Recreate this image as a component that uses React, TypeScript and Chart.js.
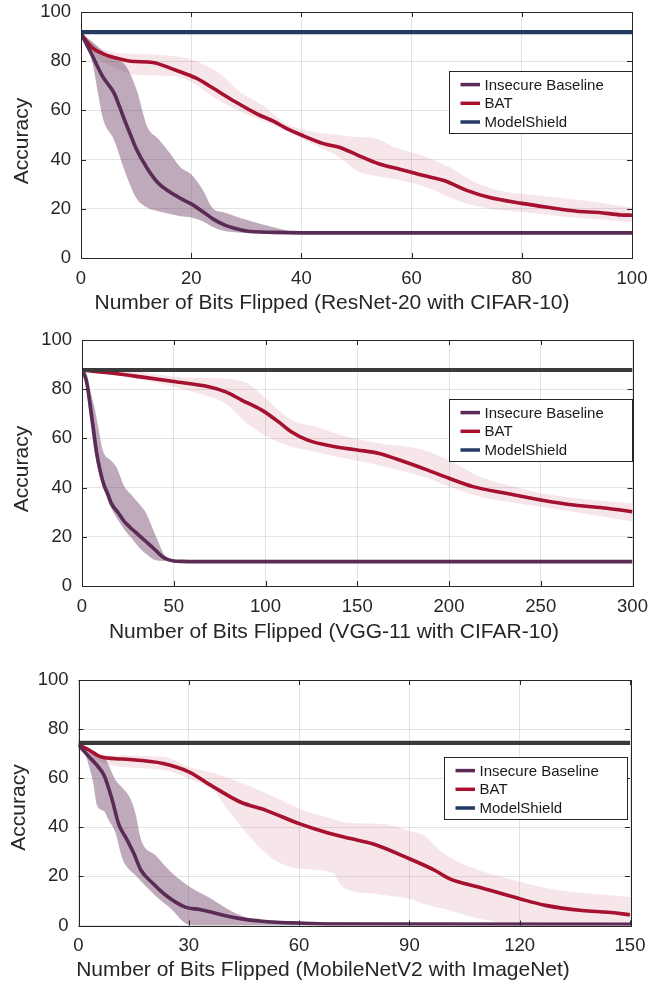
import React, { useEffect, useRef } from "react";
import { Chart, registerables } from "chart.js";

Chart.register(...registerables);

const FONT = "'Liberation Sans', Arial, Helvetica, sans-serif";
const PAGE_W = 668;

const PURPLE = "#5a2c55";
const PURPLE_FILL = "rgba(100,52,94,0.42)";
const CRIMSON = "#a5112f";
const CRIMSON_FILL = "rgba(170,30,55,0.11)";
const NAVY = "#243a63";
const DARK = "#3a3a3a";
const INK = "#262626";

const legendLabels = ["Insecure Baseline", "BAT", "ModelShield"];
const yTitle = "Accuracy";
const yTicks = { min: 0, max: 100, step: 20 };

// ---------- Panel 1: ResNet-20 with CIFAR-10 ----------
const r20Title = "Number of Bits Flipped (ResNet-20 with CIFAR-10)";
const r20XTicks = { max: 100, step: 20 };
const r20ShieldX = [0, 100];
const r20ShieldY = [91.8, 91.8];
const r20BaseX = [0, 2, 4, 6, 7, 8, 9, 10, 12, 14, 16, 18, 20, 22, 24, 26, 28, 30, 35, 40, 100];
const r20BaseY = [91.2, 82.5, 73.5, 67, 61.5, 55.5, 50, 44.5, 36.5, 30.5, 27, 24.3, 22, 19, 15.8, 13.5, 12, 11, 10.4, 10.2, 10.2];
const r20BaseBandX = [0, 2, 3, 4, 6, 8, 10, 12, 14, 16, 18, 20, 22, 24, 26, 28, 30, 34, 40, 100];
const r20BaseHi = [91.2, 88, 86, 84, 81, 78.5, 69, 53.5, 48.5, 43, 37, 34, 28, 20, 18.5, 17, 15.5, 13, 10.5, 10.5];
const r20BaseLo = [91.2, 80, 68, 56.5, 48, 35, 24.5, 20.5, 19, 18, 17, 16.5, 15, 12.5, 11, 10.5, 10.2, 10, 10, 10];
const r20BatX = [0, 2, 4, 6, 9, 13, 17, 21, 24, 28, 32, 35, 37, 40, 44, 47, 50, 54, 58, 62, 66, 70, 74, 80, 85, 90, 94, 98, 100];
const r20BatY = [91.2, 85.5, 83, 81.5, 80, 79.5, 76.5, 73, 69, 63.5, 58.5, 55.5, 53, 50, 46.5, 44.9, 42, 38.3, 36, 33.6, 31.4, 27.5, 24.7, 22.2, 20.5, 19, 18.5, 17.5, 17.4];
const r20BatBandX = [0, 2, 5, 10, 17, 20, 25, 29, 33, 37, 41, 47, 50, 53, 57, 63, 67, 71, 76, 81, 89, 94, 100];
const r20BatHi = [91.2, 87.5, 84, 83, 82, 80.7, 75.3, 67.2, 62, 55, 51.8, 50, 49.2, 48.9, 45, 40.8, 36.8, 31.4, 27.3, 25.9, 23.9, 22.6, 20.5];
const r20BatLo = [91.2, 83, 78.6, 74.5, 73.9, 71.5, 64, 59.5, 55.8, 52, 47.5, 40.8, 35.5, 33.5, 32, 28.6, 24.6, 21.5, 19.5, 18.5, 16.5, 15.8, 14.5];

// ---------- Panel 2: VGG-11 with CIFAR-10 ----------
const vggTitle = "Number of Bits Flipped (VGG-11 with CIFAR-10)";
const vggXTicks = { max: 300, step: 50 };
const vggShieldX = [0, 300];
const vggShieldY = [87.8, 87.8];
const vggBaseX = [0, 2, 3, 4, 6, 8, 10, 12, 14, 16, 20, 23, 26, 29, 32, 35, 38, 41, 44, 47, 50, 55, 60, 300];
const vggBaseY = [87.8, 84.5, 81, 76, 65, 54, 46.5, 41, 37.5, 33.6, 29.5, 26.3, 24, 22, 20, 18, 16, 13.8, 11.8, 10.7, 10.2, 10, 9.9, 9.9];
const vggBaseBandX = [0, 2, 3, 5, 7, 9, 11, 13, 15, 19, 23, 27, 31, 35, 39, 42, 45, 50, 300];
const vggBaseHi = [87.8, 87, 85, 78, 72, 64, 56, 52.6, 51.5, 48, 40.5, 37, 33.5, 29.5, 22.5, 17.2, 12.5, 10.6, 10.2];
const vggBaseLo = [87.8, 82.5, 76, 64, 54, 46.5, 41, 37, 33, 27.5, 23, 19.5, 15.8, 13, 10.8, 10.3, 10.2, 10.1, 9.7];
const vggBatX = [0, 18, 32, 50, 69, 78, 87, 98, 107, 114, 123, 138, 150, 162, 173, 188, 200, 213, 231, 250, 268, 286, 300];
const vggBatY = [87.8, 86.4, 85, 83.1, 81, 79, 75.6, 71.5, 66.8, 62.7, 59.3, 56.6, 55.3, 53.9, 51.2, 47.2, 43.8, 40.4, 37.7, 35, 32.9, 31.6, 30.2];
const vggBatBandX = [0, 25, 50, 69, 78, 90, 101, 114, 127, 141, 162, 186, 200, 217, 235, 250, 278, 300];
const vggBatHi = [87.8, 87.5, 85.1, 84.6, 84.4, 82.4, 75.6, 67.5, 64.8, 61.4, 58, 55.3, 51.2, 44.4, 40.4, 37.7, 35, 33.6];
const vggBatLo = [87.8, 85, 81, 77, 74.3, 66.1, 60.7, 56.6, 54.6, 52.2, 49, 44.4, 40.4, 36.3, 33.8, 32.2, 28.9, 26.2];

// ---------- Panel 3: MobileNetV2 with ImageNet ----------
const mnTitle = "Number of Bits Flipped (MobileNetV2 with ImageNet)";
const mnXTicks = { max: 150, step: 30 };
const mnShieldX = [0, 150];
const mnShieldY = [74.4, 74.4];
const mnBaseX = [0, 3, 5, 7, 9, 11, 13, 15, 17, 20, 24, 29, 33, 36, 40, 44, 50, 55, 60, 70, 150];
const mnBaseY = [73.5, 68.5, 65.3, 61, 52, 41, 35.5, 29.5, 22.5, 17.5, 12, 7.5, 6.5, 5.5, 4, 2.8, 1.7, 1.2, 1, 0.6, 0.5];
const mnBaseBandX = [0, 2, 4, 5, 7, 8, 10, 12, 14, 15.5, 17, 21, 25, 30, 36, 42, 47, 53, 60, 150];
const mnBaseHi = [73.5, 72, 70, 69.5, 68.7, 66, 59.5, 56, 52, 45.5, 35, 28.5, 22, 16, 11, 5.5, 2.7, 2, 1.4, 1];
const mnBaseLo = [73.5, 69, 58, 49, 46.5, 43.5, 38, 27, 22.5, 20.5, 18, 12, 7, 0.3, 0, 0, 0, 0, 0, 0];
const mnBatX = [0, 3, 6, 12, 23, 30, 36, 44, 51, 60, 67, 74, 80, 90, 97, 101, 109, 120, 127, 137, 144, 150];
const mnBatY = [73.5, 71.4, 68.7, 67.8, 66, 62.6, 57.1, 50.3, 46.9, 41.5, 38.1, 35.4, 33.3, 27.2, 22.4, 19, 15.6, 10.9, 8.2, 6.1, 5.4, 4.4];
const mnBatBandX = [0, 7, 23, 30, 37, 41, 47, 53, 60, 69, 72, 80, 85, 90, 94, 98, 100, 108, 117, 126, 135, 150];
const mnBatHi = [73.5, 69.4, 68.7, 64.6, 62, 60, 56.5, 52.5, 47.6, 43.5, 42.2, 41.5, 40.8, 38.5, 36.7, 31, 28.6, 23, 19, 15.6, 13.6, 11.6];
const mnBatLo = [73.5, 66, 63.3, 59.9, 54.5, 46.3, 35.4, 27, 23.1, 21.5, 15.5, 13, 12, 10.9, 8.8, 7.2, 6.5, 3.2, 0.7, 0, 0, 0];

type Panel = {
  title: string;
  xMax: number;
  xStep: number;
  shieldColor: string;
  shield: [number[], number[]];
  base: [number[], number[]];
  baseBand: [number[], number[], number[]];
  bat: [number[], number[]];
  batBand: [number[], number[], number[]];
  // layout (page pixels)
  top: number;
  height: number;
  areaTop: number;
  areaBottom: number;
  areaLeft: number;
  areaRight: number;
  titleX: number;
  titleY: number;
  yTitleX: number;
  yTitleY: number;
  legendTop: number;
  legendDx: number;
};

const panels: Panel[] = [
  {
    title: r20Title, xMax: r20XTicks.max, xStep: r20XTicks.step, shieldColor: NAVY,
    shield: [r20ShieldX, r20ShieldY], base: [r20BaseX, r20BaseY],
    baseBand: [r20BaseBandX, r20BaseHi, r20BaseLo], bat: [r20BatX, r20BatY],
    batBand: [r20BatBandX, r20BatHi, r20BatLo],
    top: 0, height: 326, areaTop: 12, areaBottom: 258, areaLeft: 81, areaRight: 632,
    titleX: 332, titleY: 303.5, yTitleX: 22.4, yTitleY: 141, legendTop: 58.7, legendDx: 0,
  },
  {
    title: vggTitle, xMax: vggXTicks.max, xStep: vggXTicks.step, shieldColor: DARK,
    shield: [vggShieldX, vggShieldY], base: [vggBaseX, vggBaseY],
    baseBand: [vggBaseBandX, vggBaseHi, vggBaseLo], bat: [vggBatX, vggBatY],
    batBand: [vggBatBandX, vggBatHi, vggBatLo],
    top: 326, height: 334, areaTop: 340, areaBottom: 586, areaLeft: 82, areaRight: 632.5,
    titleX: 334, titleY: 632, yTitleX: 22.4, yTitleY: 469, legendTop: 59.3, legendDx: -1,
  },
  {
    title: mnTitle, xMax: mnXTicks.max, xStep: mnXTicks.step, shieldColor: DARK,
    shield: [mnShieldX, mnShieldY], base: [mnBaseX, mnBaseY],
    baseBand: [mnBaseBandX, mnBaseHi, mnBaseLo], bat: [mnBatX, mnBatY],
    batBand: [mnBatBandX, mnBatHi, mnBatLo],
    top: 660, height: 322, areaTop: 680, areaBottom: 925.5, areaLeft: 78.5, areaRight: 630,
    titleX: 323, titleY: 970.5, yTitleX: 19.5, yTitleY: 807.5, legendTop: 77.3, legendDx: -2.7,
  },
];

const pts = (xs: number[], ys: number[]) => xs.map((x, i) => ({ x, y: ys[i] }));

const framePlugin = {
  id: "matlabFrame",
  afterDatasetsDraw(chart: any) {
    const { ctx, chartArea: a, scales } = chart;
    ctx.save();
    ctx.strokeStyle = INK;
    ctx.lineWidth = 1;
    ctx.strokeRect(Math.round(a.left) + 0.5, Math.round(a.top) + 0.5, Math.round(a.right - a.left), Math.round(a.bottom - a.top));
    const L = 5;
    ctx.beginPath();
    scales.x.ticks.forEach((t: any) => {
      const px = Math.round(scales.x.getPixelForValue(t.value)) + 0.5;
      ctx.moveTo(px, a.bottom); ctx.lineTo(px, a.bottom - L);
      ctx.moveTo(px, a.top); ctx.lineTo(px, a.top + L);
    });
    scales.y.ticks.forEach((t: any) => {
      const py = Math.round(scales.y.getPixelForValue(t.value)) + 0.5;
      ctx.moveTo(a.left, py); ctx.lineTo(a.left + L, py);
      ctx.moveTo(a.right, py); ctx.lineTo(a.right - L, py);
    });
    ctx.stroke();
    ctx.restore();
  },
};

function makeTextPlugin(p: Panel) {
  const colors = [PURPLE, CRIMSON, NAVY];
  return {
    id: "panelText",
    afterDraw(chart: any) {
      const { ctx, chartArea: a } = chart;
      ctx.save();
      // axis titles
      ctx.fillStyle = INK;
      ctx.font = `21px ${FONT}`;
      ctx.textAlign = "center";
      ctx.textBaseline = "middle";
      ctx.fillText(p.title, p.titleX, p.titleY - p.top);
      ctx.save();
      ctx.translate(p.yTitleX, p.yTitleY - p.top);
      ctx.rotate(-Math.PI / 2);
      ctx.fillText(yTitle, 0, 0);
      ctx.restore();
      // boxed legend
      const w = 183, h = 62;
      const x0 = Math.round(a.right + p.legendDx - w);
      const y0 = Math.round(a.top + p.legendTop);
      ctx.fillStyle = "#ffffff";
      ctx.fillRect(x0, y0, w, h);
      ctx.strokeStyle = INK;
      ctx.lineWidth = 1;
      ctx.strokeRect(x0 + 0.5, y0 + 0.5, w, h);
      ctx.font = `15px ${FONT}`;
      ctx.textBaseline = "middle";
      ctx.textAlign = "left";
      legendLabels.forEach((label, i) => {
        const cy = y0 + 13.6 + i * 18.7;
        ctx.strokeStyle = colors[i];
        ctx.lineWidth = 3.5;
        ctx.beginPath();
        ctx.moveTo(x0 + 11.5, cy);
        ctx.lineTo(x0 + 31, cy);
        ctx.stroke();
        ctx.fillStyle = "#1a1a1a";
        ctx.fillText(label, x0 + 35.5, cy + 1);
      });
      ctx.restore();
    },
  };
}

function PanelChart({ p }: { p: Panel }) {
  const ref = useRef<HTMLCanvasElement>(null);
  useEffect(() => {
    const canvas = ref.current;
    if (!canvas) return;
    const xAxisH = 40;
    const padBottom = p.top + p.height - p.areaBottom - xAxisH;
    const tickFont = { family: FONT, size: 18.5 };
    const smooth = { cubicInterpolationMode: "monotone" };
    const chart = new Chart(canvas, {
      type: "line",
      data: {
        datasets: [
          { label: "ModelShield", data: pts(p.shield[0], p.shield[1]), borderColor: p.shieldColor, borderWidth: 4.2, fill: false, order: 0 },
          { label: "Insecure Baseline", data: pts(p.base[0], p.base[1]), borderColor: PURPLE, borderWidth: 3.6, fill: false, order: 1, ...smooth },
          { label: "BAT", data: pts(p.bat[0], p.bat[1]), borderColor: CRIMSON, borderWidth: 3.6, fill: false, order: 2, ...smooth },
          { label: "Insecure Baseline upper", data: pts(p.baseBand[0], p.baseBand[1]), borderWidth: 0, borderColor: "rgba(0,0,0,0)", backgroundColor: PURPLE_FILL, fill: "+1", order: 3, ...smooth },
          { label: "Insecure Baseline lower", data: pts(p.baseBand[0], p.baseBand[2]), borderWidth: 0, borderColor: "rgba(0,0,0,0)", fill: false, order: 3, ...smooth },
          { label: "BAT upper", data: pts(p.batBand[0], p.batBand[1]), borderWidth: 0, borderColor: "rgba(0,0,0,0)", backgroundColor: CRIMSON_FILL, fill: "+1", order: 4, ...smooth },
          { label: "BAT lower", data: pts(p.batBand[0], p.batBand[2]), borderWidth: 0, borderColor: "rgba(0,0,0,0)", fill: false, order: 4, ...smooth },
        ] as any,
      },
      options: {
        animation: false,
        responsive: false,
        maintainAspectRatio: false,
        layout: {
          padding: { top: p.areaTop - p.top, right: PAGE_W - p.areaRight, bottom: padBottom, left: 0 },
        },
        elements: { point: { radius: 0, hoverRadius: 0 }, line: { tension: 0 } },
        plugins: { legend: { display: false }, tooltip: { enabled: false } },
        events: [],
        scales: {
          x: {
            type: "linear",
            min: 0,
            max: p.xMax,
            ticks: { stepSize: p.xStep, font: tickFont, color: INK, padding: 9.5, maxRotation: 0, autoSkip: false },
            grid: { color: "rgba(0,0,0,0.11)", drawTicks: false },
            border: { display: false },
            title: { display: false },
            afterFit: (s: any) => { s.height = xAxisH; s.paddingLeft = 0; s.paddingRight = 0; },
          },
          y: {
            type: "linear",
            min: yTicks.min,
            max: yTicks.max,
            ticks: { stepSize: yTicks.step, font: tickFont, color: INK, padding: 10 },
            grid: { color: "rgba(0,0,0,0.11)", drawTicks: false },
            border: { display: false },
            title: { display: false },
            afterFit: (s: any) => { s.width = p.areaLeft; s.paddingTop = 0; s.paddingBottom = 0; },
          },
        },
      } as any,
      plugins: [framePlugin, makeTextPlugin(p)],
    });
    return () => chart.destroy();
  }, [p]);
  return (
    <canvas
      ref={ref}
      width={PAGE_W}
      height={p.height}
      style={{ position: "absolute", left: 0, top: p.top, width: PAGE_W, height: p.height, display: "block" }}
    />
  );
}

export default function App() {
  return (
    <div style={{ position: "absolute", left: 0, top: 0, width: PAGE_W, height: 982, background: "#fff", overflow: "hidden" }}>
      {panels.map((p, i) => (
        <PanelChart key={i} p={p} />
      ))}
    </div>
  );
}
